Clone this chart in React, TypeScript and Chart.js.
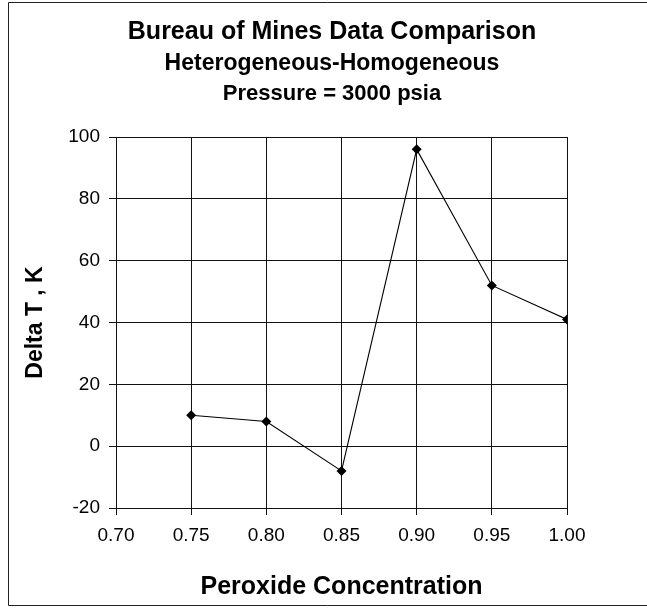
import React, { useEffect, useRef } from "react";
import { Chart, registerables } from "chart.js";

Chart.register(...registerables);

const titleLines = [
  "Bureau of Mines Data Comparison",
  "Heterogeneous-Homogeneous",
  "Pressure = 3000 psia",
];
const xTitle = "Peroxide Concentration";
const yTitle = "Delta T , K";
const concentrations = [0.75, 0.8, 0.85, 0.9, 0.95, 1.0];
const deltaT = [10, 8, -8, 96, 52, 41];
const xTicks = [0.7, 0.75, 0.8, 0.85, 0.9, 0.95, 1.0];
const yTicks = [-20, 0, 20, 40, 60, 80, 100];

const FONT = "'Liberation Sans', Arial, Helvetica, sans-serif";

const framePlugin = {
  id: "frameAndTitle",
  afterDraw(chart: any) {
    const ctx = chart.ctx as CanvasRenderingContext2D;
    const w = chart.width;
    ctx.save();
    ctx.strokeStyle = "#222";
    ctx.lineWidth = 1;
    ctx.beginPath();
    ctx.moveTo(w, 2.5);
    ctx.lineTo(8.5, 2.5);
    ctx.lineTo(8.5, 605.5);
    ctx.lineTo(w, 605.5);
    ctx.stroke();
    ctx.fillStyle = "#000";
    ctx.textAlign = "center";
    ctx.textBaseline = "alphabetic";
    const baselines = [39, 70, 100];
    const sizes = [25, 23, 22];
    titleLines.forEach((t, i) => {
      ctx.font = `bold ${sizes[i]}px ${FONT}`;
      ctx.fillText(t, 332, baselines[i]);
    });
    ctx.restore();
  },
};

export default function App() {
  const ref = useRef<HTMLCanvasElement | null>(null);
  useEffect(() => {
    if (!ref.current) return;
    const chart = new Chart(ref.current, {
      type: "scatter",
      data: {
        datasets: [
          {
            data: concentrations.map((x, i) => ({ x, y: deltaT[i] })),
            showLine: true,
            borderColor: "#000",
            borderWidth: 1.1,
            backgroundColor: "#000",
            pointStyle: "rectRot",
            pointRadius: 5,
            pointBorderWidth: 0,
            tension: 0,
          },
        ],
      },
      options: {
        animation: false,
        responsive: false,
        devicePixelRatio: 1,
        layout: { padding: { left: 0, top: 137, right: 80, bottom: 0 } },
        plugins: { legend: { display: false }, tooltip: { enabled: false }, title: { display: false } },
        scales: {
          x: {
            type: "linear",
            min: 0.7,
            max: 1.0,
            afterBuildTicks: (s: any) => {
              s.ticks = xTicks.map((v) => ({ value: v }));
            },
            afterFit: (s: any) => {
              s.height = 103;
            },
            ticks: {
              color: "#000",
              font: { family: FONT, size: 19 },
              padding: 9,
              maxRotation: 0,
              autoSkip: false,
              callback: (v: any) => Number(v).toFixed(2),
            },
            grid: { color: "#111", lineWidth: 1, tickLength: 7, drawTicks: true },
            border: { display: true, color: "#111", width: 1 },
            title: {
              display: true,
              text: xTitle,
              color: "#000",
              font: { family: FONT, size: 25, weight: "bold" },
              padding: { top: 0, bottom: 9 },
            },
          },
          y: {
            type: "linear",
            min: -20,
            max: 100,
            afterBuildTicks: (s: any) => {
              s.ticks = yTicks.map((v) => ({ value: v }));
            },
            afterFit: (s: any) => {
              s.width = 116;
            },
            ticks: {
              color: "#000",
              font: { family: FONT, size: 19 },
              padding: 9,
            },
            grid: { color: "#111", lineWidth: 1, tickLength: 7, drawTicks: true },
            border: { display: true, color: "#111", width: 1 },
            title: {
              display: true,
              text: yTitle,
              color: "#000",
              font: { family: FONT, size: 23, weight: "bold" },
              padding: { top: 22, bottom: 0 },
            },
          },
        },
      },
      plugins: [framePlugin],
    } as any);
    return () => chart.destroy();
  }, []);
  return (
    <div style={{ position: "fixed", left: 0, top: 0, width: 647, height: 611, background: "#fff" }}>
      <canvas ref={ref} width={647} height={611} style={{ display: "block", width: 647, height: 611 }} />
    </div>
  );
}
